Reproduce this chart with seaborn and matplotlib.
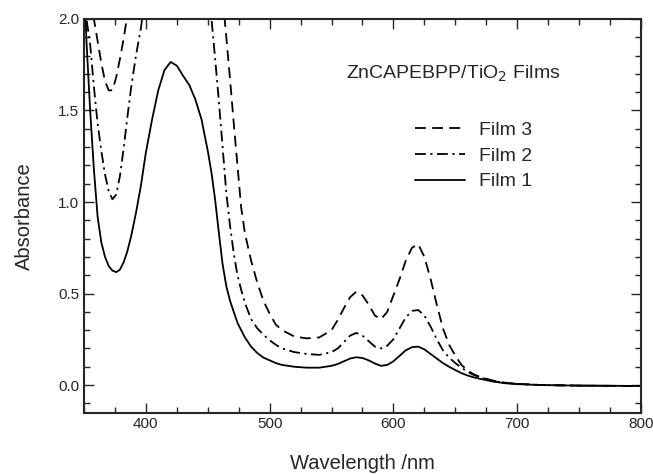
import numpy as np
import pandas as pd
import seaborn as sns
import matplotlib
matplotlib.use("Agg")
import matplotlib.pyplot as plt
from matplotlib.ticker import MultipleLocator

wavelength = [350, 352, 355, 358, 361, 364, 367, 370, 373, 376,
              379, 382, 385, 388, 392, 396, 400, 405, 410, 415,
              420, 425, 430, 435, 440, 445, 450, 453, 456, 459,
              462, 465, 468, 471, 474, 477, 480, 485, 490, 495,
              500, 505, 510, 520, 530, 540, 550, 555, 560, 565,
              570, 575, 580, 585, 590, 595, 600, 605, 610, 615,
              620, 625, 630, 635, 640, 645, 650, 655, 660, 665,
              670, 680, 690, 700, 720, 750, 800]

film1 = [2.25, 1.88, 1.50, 1.18, 0.92, 0.78, 0.70, 0.65, 0.625, 0.617,
         0.63, 0.67, 0.73, 0.81, 0.94, 1.09, 1.27, 1.45, 1.61, 1.72,
         1.765, 1.745, 1.69, 1.64, 1.56, 1.45, 1.28, 1.16, 1.01, 0.83,
         0.66, 0.54, 0.46, 0.40, 0.34, 0.30, 0.26, 0.21, 0.175, 0.15,
         0.135, 0.12, 0.11, 0.10, 0.095, 0.095, 0.105, 0.115, 0.13, 0.145,
         0.152, 0.148, 0.135, 0.118, 0.105, 0.11, 0.13, 0.16, 0.19, 0.207,
         0.21, 0.195, 0.17, 0.145, 0.12, 0.10, 0.082, 0.065, 0.052, 0.042,
         0.034, 0.02, 0.01, 0.005, 0.0, -0.003, -0.005]

film2 = [2.15, 2.0, 1.86, 1.63, 1.43, 1.28, 1.15, 1.06, 1.015, 1.04,
         1.14, 1.29, 1.46, 1.62, 1.80, 1.95, 2.15, 2.4, 2.5, 2.5,
         2.5, 2.5, 2.5, 2.5, 2.5, 2.5, 2.3, 2.0, 1.78, 1.55,
         1.30, 1.05, 0.87, 0.72, 0.60, 0.52, 0.45, 0.36, 0.31, 0.275,
         0.245, 0.22, 0.20, 0.18, 0.17, 0.165, 0.18, 0.20, 0.235, 0.27,
         0.285, 0.27, 0.24, 0.21, 0.20, 0.215, 0.25, 0.31, 0.37, 0.405,
         0.41, 0.38, 0.32, 0.25, 0.19, 0.15, 0.12, 0.095, 0.072, 0.055,
         0.042, 0.022, 0.012, 0.006, 0.0, -0.003, -0.005]

film3 = [2.5, 2.4, 2.2, 2.0, 1.88, 1.76, 1.66, 1.61, 1.61, 1.68,
         1.78, 1.89, 2.02, 2.2, 2.5, 2.5, 2.5, 2.5, 2.5, 2.5,
         2.5, 2.5, 2.5, 2.5, 2.5, 2.5, 2.5, 2.5, 2.45, 2.3,
         2.12, 1.90, 1.67, 1.43, 1.20, 0.97, 0.83, 0.68, 0.56, 0.46,
         0.39, 0.33, 0.30, 0.265, 0.255, 0.26, 0.30, 0.355, 0.42, 0.48,
         0.51, 0.49, 0.44, 0.38, 0.36, 0.40, 0.49, 0.58, 0.68, 0.75,
         0.77, 0.70, 0.58, 0.44, 0.31, 0.22, 0.16, 0.11, 0.08, 0.058,
         0.045, 0.025, 0.013, 0.007, 0.0, -0.003, -0.005]

df = pd.DataFrame({"Wavelength": wavelength, "Film 1": film1,
                   "Film 2": film2, "Film 3": film3})
df_long = df.melt(id_vars="Wavelength", var_name="Film", value_name="Absorbance")

sns.set_style("ticks")
plt.rcParams["font.family"] = ["Liberation Sans", "DejaVu Sans"]

fig = plt.figure(figsize=(6.53, 4.74), dpi=100)
ax = fig.add_axes([0.1286, 0.1297, 0.853, 0.8303])

estilos = {"Film 1": "", "Film 2": (6, 2.5, 1.2, 2.5), "Film 3": (6, 3.5)}
sns.lineplot(data=df_long, x="Wavelength", y="Absorbance", style="Film",
             dashes=estilos, color="black", linewidth=1.3, ax=ax)

ax.set_xlim(350, 800)
ax.set_ylim(-0.15, 2.0)
ax.xaxis.set_major_locator(MultipleLocator(100))
ax.xaxis.set_minor_locator(MultipleLocator(25))
ax.yaxis.set_major_locator(MultipleLocator(0.5))
ax.yaxis.set_minor_locator(MultipleLocator(0.1))
ax.yaxis.set_major_formatter(matplotlib.ticker.FormatStrFormatter("%.1f"))
ax.tick_params(which="both", direction="in", top=True, right=True,
               labelsize=11, width=1.0)
ax.tick_params(which="major", length=7)
ax.tick_params(which="minor", length=4)
for s in ax.spines.values():
    s.set_linewidth(1.5)

ax.set_xlabel("Wavelength /nm", fontsize=14.5, labelpad=16)
ax.set_ylabel("Absorbance", fontsize=14.5, labelpad=17)

# leyenda en orden inverso (Film 3 arriba)
handles, labels = ax.get_legend_handles_labels()
orden = [labels.index(k) for k in ["Film 3", "Film 2", "Film 1"]]
ax.legend([handles[i] for i in orden], [labels[i] for i in orden],
          loc="upper left", bbox_to_anchor=(0.594, 0.74), frameon=False,
          fontsize=14, handlelength=2.6, handletextpad=0.7,
          labelspacing=0.42, borderpad=0, borderaxespad=0)

ax.text(562, 1.70, "ZnCAPEBPP/TiO$_2$ Films", fontsize=14, va="center", ha="left")

plt.savefig("out.png", dpi=100)
